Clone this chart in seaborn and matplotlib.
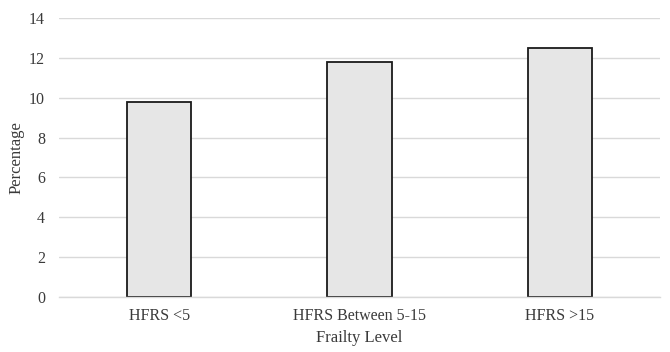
import matplotlib
matplotlib.use("Agg")
import matplotlib.pyplot as plt
import seaborn as sns
import pandas as pd

categories = ["HFRS <5", "HFRS Between 5-15", "HFRS >15"]
values = [9.8, 11.8, 12.5]
yticks = [0, 2, 4, 6, 8, 10, 12, 14]

sns.set_theme(style="white")
plt.rcParams['font.family'] = ['Liberation Serif', 'DejaVu Serif']

df = pd.DataFrame({"Frailty Level": categories, "Percentage": values})

fig = plt.figure(figsize=(6.7, 3.52), dpi=100)
ax = fig.add_axes([59/670, 55/352, 601/670, 279/352])
sns.barplot(data=df, x="Frailty Level", y="Percentage", ax=ax,
            color="#e6e6e6", edgecolor="#1a1a1a", linewidth=1.3, width=0.32,
            saturation=1)
ax.set_ylim(0, 14)
ax.set_xlim(-0.5, 2.5)
ax.set_yticks(yticks)
ax.yaxis.grid(True, color="#d9d9d9", linewidth=1)
ax.set_axisbelow(True)
for s in ["top", "right", "left"]:
    ax.spines[s].set_visible(False)
ax.spines["bottom"].set_color("#d9d9d9")
ax.spines["bottom"].set_linewidth(1)
ax.tick_params(axis="x", length=0, labelsize=11.5, colors="#3a3a3a", pad=8)
ax.tick_params(axis="y", length=0, labelsize=11.5, colors="#3a3a3a", pad=10)
ax.set_xlabel("Frailty Level", fontsize=12, color="#3a3a3a", labelpad=4)
ax.set_ylabel("Percentage", fontsize=12, color="#3a3a3a", labelpad=3)
fig.savefig("out.png", dpi=100)
